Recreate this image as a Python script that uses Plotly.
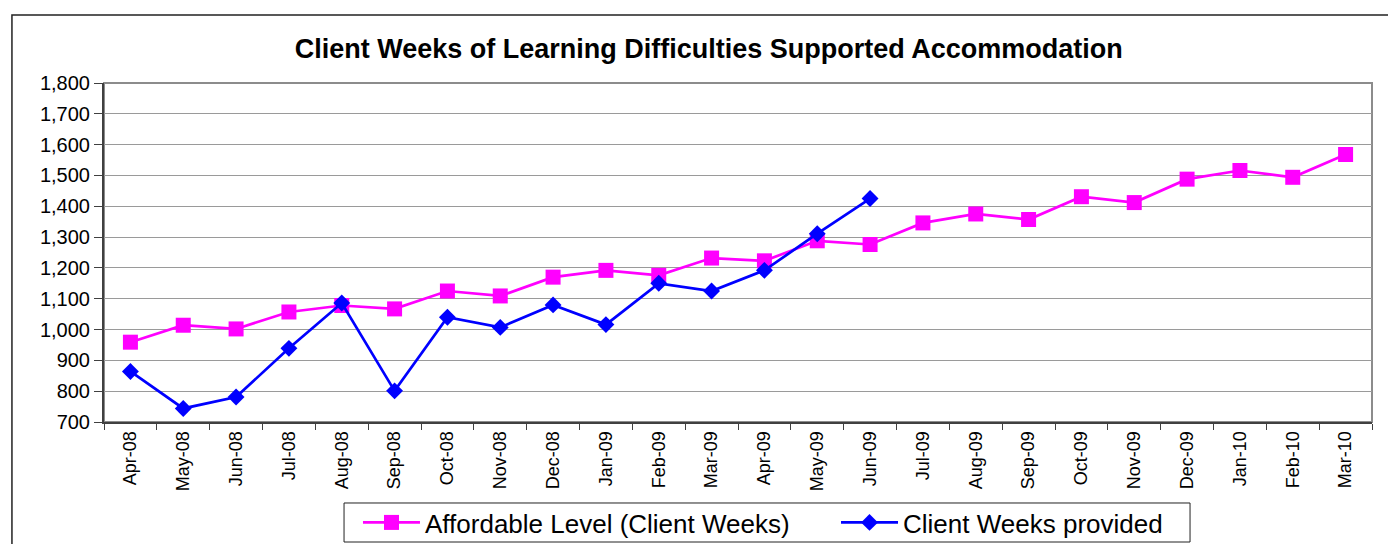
import plotly.graph_objects as go

MONTHS = [
    "Apr-08", "May-08", "Jun-08", "Jul-08", "Aug-08", "Sep-08", "Oct-08", "Nov-08",
    "Dec-08", "Jan-09", "Feb-09", "Mar-09", "Apr-09", "May-09", "Jun-09", "Jul-09",
    "Aug-09", "Sep-09", "Oct-09", "Nov-09", "Dec-09", "Jan-10", "Feb-10", "Mar-10",
]
AFFORDABLE = [
    959, 1014, 1002, 1057, 1078, 1067, 1125, 1109, 1170, 1192, 1176, 1232,
    1223, 1288, 1276, 1346, 1375, 1357, 1431, 1412, 1488, 1516, 1494, 1568,
]
PROVIDED = [
    864, 744, 781, 939, 1086, 801, 1040, 1007, 1080, 1016, 1150, 1125,
    1192, 1311, 1425, None, None, None, None, None, None, None, None, None,
]

PINK = "#ff00ff"
BLUE = "#0000ff"
GRID = "#9a9a9a"
AXIS = "#404040"
FONT = "Liberation Sans, Arial, sans-serif"


def _legend(x: float) -> dict:
    return dict(
        orientation="h",
        x=x, xanchor="left",
        y=0.0974, yref="container", yanchor="top",
        borderwidth=0,
        bgcolor="rgba(0,0,0,0)",
        font=dict(size=26, family=FONT),
        itemwidth=57,
    )


fig = go.Figure()
fig.add_trace(
    go.Scatter(
        x=MONTHS, y=AFFORDABLE, mode="lines+markers", name="Affordable Level (Client Weeks)",
        line=dict(color=PINK, width=2.7),
        marker=dict(symbol="square", size=15, color=PINK),
        legend="legend",
    )
)
fig.add_trace(
    go.Scatter(
        x=MONTHS, y=PROVIDED, mode="lines+markers", name="Client Weeks provided",
        line=dict(color=BLUE, width=2.7),
        marker=dict(symbol="diamond", size=13, color=BLUE),
        legend="legend2",
    )
)

# page body has an 8px margin, so everything is offset by -8px here
fig.update_layout(
    width=1396,
    height=544,
    margin=dict(l=96, r=32, t=75, b=130),
    paper_bgcolor="white",
    plot_bgcolor="white",
    font=dict(family=FONT, color="black"),
    title=dict(
        text="<b>Client Weeks of Learning Difficulties Supported Accommodation</b>",
        font=dict(size=27, family=FONT, color="black"),
        x=0.502, xref="container", xanchor="center",
        y=0.926, yref="container", yanchor="middle",
    ),
    showlegend=True,
    legend=_legend(0.2003),
    legend2=_legend(0.5773),
    xaxis=dict(
        type="category",
        range=[-0.5, 23.5],
        tickangle=-90,
        tickfont=dict(size=18),
        ticks="outside", tickson="boundaries", ticklen=6, tickcolor=AXIS,
        showline=True, linecolor=AXIS, linewidth=2,
        showgrid=False,
        automargin=False,
    ),
    yaxis=dict(
        range=[700, 1800],
        dtick=100,
        tickformat=",",
        tickfont=dict(size=20),
        ticks="outside", ticklen=8, tickcolor=AXIS,
        showline=True, linecolor=AXIS, linewidth=2,
        gridcolor=GRID, gridwidth=1,
        zeroline=False,
        automargin=False,
    ),
    shapes=[
        # grey plot-area frame (top/right)
        dict(type="rect", xref="paper", yref="paper", x0=0, x1=1, y0=0, y1=1,
             line=dict(color="#8c8c8c", width=2), layer="below"),
        # outer chart border
        dict(type="rect", xref="paper", yref="paper", x0=-0.0726, x1=1.5, y0=-1.0, y1=1.2006,
             line=dict(color="#222222", width=1.5), layer="below"),
        # legend box
        dict(type="rect", xref="paper", yref="paper", x0=0.1893, x1=0.8565, y0=-0.354, y1=-0.2389,
             line=dict(color="#222222", width=1), fillcolor="white", layer="below"),
    ],
)

fig.write_html("out.html")
